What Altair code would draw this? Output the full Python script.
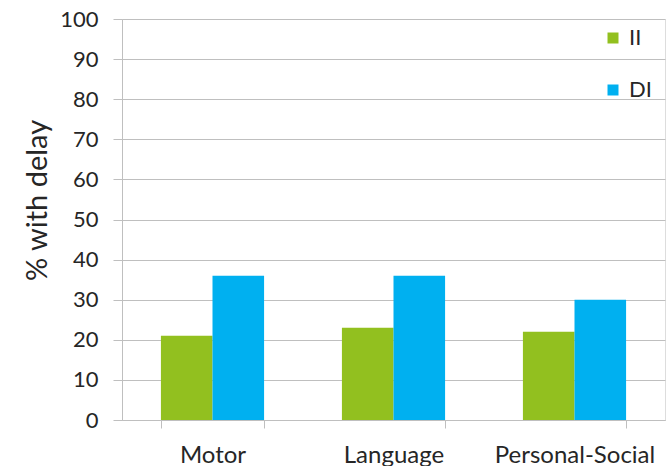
import altair as alt
import pandas as pd

domains = ["Motor", "Language", "Personal-Social"]
groups = ["II", "DI"]
ii_values = [21, 23, 22]
di_values = [36, 36, 30]

rows = []
for d, a, b in zip(domains, ii_values, di_values):
    rows.append({"domain": d, "group": "II", "pct": a})
    rows.append({"domain": d, "group": "DI", "pct": b})
df = pd.DataFrame(rows)

FONT = "Lato"
TEXT = "#262626"
GRID = "#bfbfbf"

chart = (
    alt.Chart(df)
    .mark_bar()
    .encode(
        x=alt.X(
            "domain:N",
            sort=domains,
            scale=alt.Scale(paddingInner=0.43, paddingOuter=0.215),
            axis=alt.Axis(
                title=None,
                labelAngle=0,
                labelFontSize=24,
                labelColor=TEXT,
                labelFont=FONT,
                labelPadding=15,
                tickBand="extent",
                tickSize=8,
                tickColor=GRID,
                domainColor=GRID,
                grid=False,
            ),
        ),
        xOffset=alt.XOffset("group:N", sort=groups),
        y=alt.Y(
            "pct:Q",
            scale=alt.Scale(domain=[0, 100]),
            axis=alt.Axis(
                title="% with delay",
                titleFontSize=29,
                titleFontWeight="normal",
                titleFont=FONT,
                titleColor=TEXT,
                titleAngle=-90,
                titleX=-85,
                titleY=181,
                titleAlign="center",
                titleBaseline="middle",
                values=list(range(0, 101, 10)),
                labelFontSize=22,
                labelColor=TEXT,
                labelFont=FONT,
                labelPadding=15,
                tickSize=9,
                tickColor=GRID,
                domainColor=GRID,
                gridColor=GRID,
            ),
        ),
        color=alt.Color(
            "group:N",
            sort=groups,
            scale=alt.Scale(domain=groups, range=["#92c01f", "#00b0f0"]),
            legend=alt.Legend(
                title=None,
                orient="none",
                legendX=480,
                legendY=8,
                symbolType="square",
                symbolSize=121,
                symbolStrokeWidth=0,
                labelFontSize=22,
                labelFont=FONT,
                labelColor=TEXT,
                rowPadding=30,
                labelOffset=5,
            ),
        ),
    )
    .properties(
        width=543,
        height=401,
        autosize=alt.AutoSizeParams(type="none"),
        padding={"left": 122, "top": 19, "right": 5, "bottom": 46},
    )
    .configure_view(stroke=None)
    .configure(background="white")
)

chart.save("out.html", embed_options={"renderer": "svg", "actions": False})
